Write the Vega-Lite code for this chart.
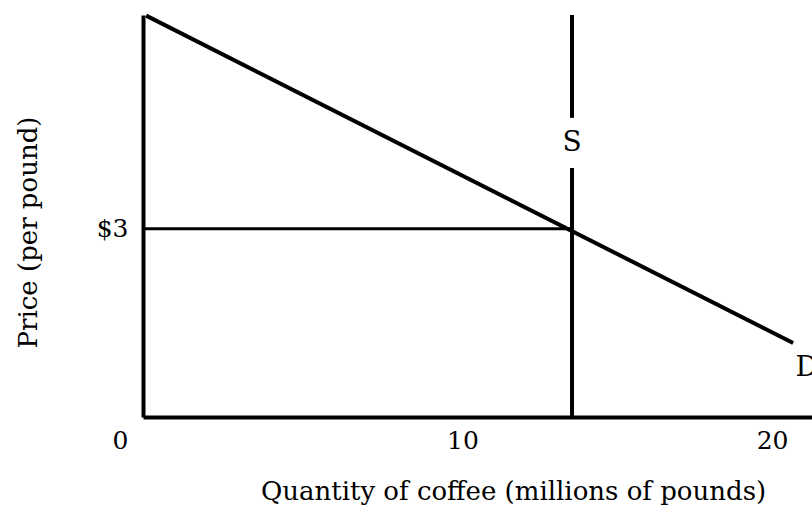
{
  "$schema": "https://vega.github.io/schema/vega-lite/v6.json",
  "width": 669,
  "height": 402,
  "autosize": "none",
  "padding": {"left": 143, "top": 15, "right": 0, "bottom": 91},
  "background": "white",
  "config": {
    "view": {"stroke": null},
    "font": "DejaVu Serif",
    "axis": {"grid": false, "ticks": false, "labelFlush": false, "domainColor": "black", "domainWidth": 4, "labelColor": "black", "titleColor": "black", "labelFont": "DejaVu Serif", "titleFont": "DejaVu Serif", "labelFontSize": 25, "titleFontSize": 26, "titleFontWeight": "normal"}
  },
  "datasets": {
    "demand": [{"q": 0.1, "p": 6.4}, {"q": 20.67, "p": 1.18}],
    "price": [{"q0": 0, "q1": 13.64, "p": 3}],
    "supply": [{"q": 13.64, "p0": 0, "p1": 3.97}, {"q": 13.64, "p0": 4.77, "p1": 6.41}],
    "labels": [{"q": 13.64, "p": 4.37, "t": "S"}, {"q": 21.1, "p": 0.78, "t": "D"}]
  },
  "layer": [
    {
      "data": {"name": "demand"},
      "mark": {"type": "line", "color": "black", "strokeWidth": 4, "clip": false},
      "encoding": {
        "x": {"field": "q", "type": "quantitative", "scale": {"domain": [0, 21.27], "nice": false, "zero": false},
          "axis": {"values": [0, 10, 20], "title": "Quantity of coffee (millions of pounds)", "labelPadding": 11,
            "labelOffset": {"condition": [{"test": "datum.value == 0", "value": -23}, {"test": "datum.value == 10", "value": 5}], "value": 0},
            "titleX": 370, "titleY": 74, "titleBaseline": "middle", "titleAlign": "center"}},
        "y": {"field": "p", "type": "quantitative", "scale": {"domain": [0, 6.41], "nice": false},
          "axis": {"values": [3], "labelExpr": "'$3'", "labelPadding": 15, "title": "Price (per pound)",
            "titleX": -115, "titleY": 217, "titleBaseline": "middle", "titleAlign": "center", "titleAngle": -90}}
      }
    },
    {
      "data": {"name": "price"},
      "mark": {"type": "rule", "color": "black", "strokeWidth": 3},
      "encoding": {
        "x": {"field": "q0", "type": "quantitative"},
        "x2": {"field": "q1"},
        "y": {"field": "p", "type": "quantitative"}
      }
    },
    {
      "data": {"name": "supply"},
      "mark": {"type": "rule", "color": "black", "strokeWidth": 4},
      "encoding": {
        "x": {"field": "q", "type": "quantitative"},
        "y": {"field": "p0", "type": "quantitative"},
        "y2": {"field": "p1"}
      }
    },
    {
      "data": {"name": "labels"},
      "mark": {"type": "text", "color": "black", "fontSize": 28, "font": "DejaVu Serif", "baseline": "middle", "align": "center"},
      "encoding": {
        "x": {"field": "q", "type": "quantitative"},
        "y": {"field": "p", "type": "quantitative"},
        "text": {"field": "t"}
      }
    }
  ]
}
